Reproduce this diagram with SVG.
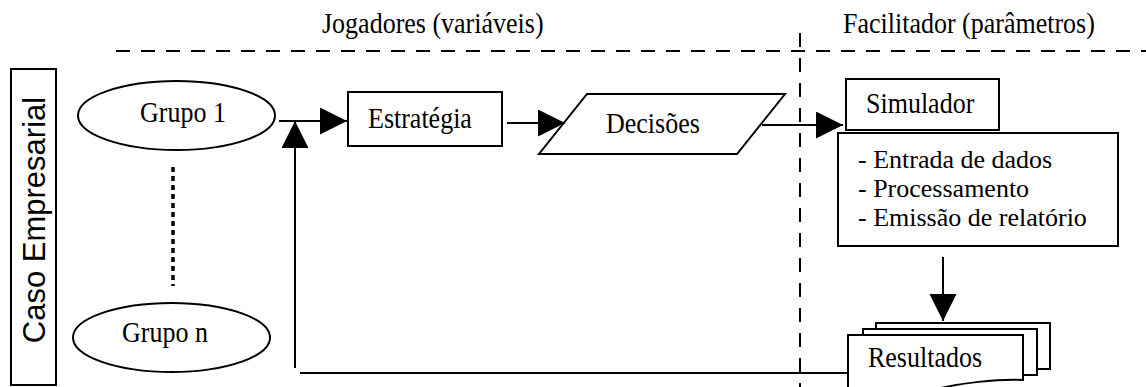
<svg xmlns="http://www.w3.org/2000/svg" width="1146" height="387" viewBox="0 0 1146 387">
<style>
.s{fill:#fff;stroke:#000;stroke-width:2}
.t{font-family:"Liberation Serif","Times New Roman",serif;font-size:26px;fill:#000}
.c{stroke:#000;stroke-width:2;fill:none}
.d{stroke:#000;stroke-width:2;fill:none;stroke-dasharray:14 11}
</style>
<defs>
<marker id="ah" markerUnits="userSpaceOnUse" markerWidth="28" markerHeight="28" refX="27" refY="13.5" orient="auto">
<path d="M0,0 L27,13.5 L0,27 z" fill="#000"/>
</marker>
</defs>
<g id="lanes">
<line class="d" x1="116" y1="51" x2="1146" y2="51"/>
<line class="d" x1="800" y1="33" x2="800" y2="387"/>
<text class="t" transform="translate(322,33) scale(1,1.12)">Jogadores (variáveis)</text>
<text class="t" transform="translate(843,33) scale(1,1.12)">Facilitador (parâmetros)</text>
</g>
<g id="caso">
<rect class="s" x="11" y="69" width="45" height="316"/>
<text transform="translate(45,220) rotate(-90)" text-anchor="middle" style="font-family:'Liberation Sans',Arial,sans-serif;font-size:31px">Caso Empresarial</text>
</g>
<g id="grupo1">
<ellipse class="s" cx="176.5" cy="115.5" rx="98.5" ry="34.5"/>
<text class="t" transform="translate(140,122) scale(1,1.12)">Grupo 1</text>
</g>
<g id="grupon">
<ellipse class="s" cx="171.5" cy="337.5" rx="98.5" ry="34.5"/>
<text class="t" transform="translate(122,342) scale(1,1.12)">Grupo n</text>
</g>
<g id="estrategia">
<rect class="s" x="348" y="92" width="154" height="54"/>
<text class="t" transform="translate(368,128) scale(1,1.12)">Estratégia</text>
</g>
<g id="decisoes">
<polygon class="s" points="587,94 785,94 737,154 539,154"/>
<text class="t" transform="translate(606,133) scale(1,1.12)">Decisões</text>
</g>
<g id="simulador">
<rect class="s" x="846" y="79" width="153" height="51"/>
<text class="t" transform="translate(866,113) scale(1,1.12)">Simulador</text>
</g>
<g id="processo">
<rect class="s" x="838" y="133" width="280" height="113"/>
<text class="t" x="858" y="168">- Entrada de dados</text>
<text class="t" x="858" y="197">- Processamento</text>
<text class="t" x="858" y="226">- Emissão de relatório</text>
</g>
<g id="resultados">
<rect class="s" x="876" y="323" width="174" height="46"/>
<rect class="s" x="863" y="329" width="174" height="46"/>
<path class="s" d="M848,392 L848,335 L1023,335 L1023,380 C1000,379 960,382 925,392"/>
<text class="t" transform="translate(868,367) scale(1,1.12)">Resultados</text>
</g>
<g id="connectors">
<line class="c" x1="279" y1="121" x2="347" y2="121" marker-end="url(#ah)"/>
<line class="c" x1="295" y1="368" x2="295" y2="121" marker-end="url(#ah)"/>
<line class="c" x1="507" y1="123" x2="565" y2="123" marker-end="url(#ah)"/>
<line class="c" x1="762" y1="125" x2="843" y2="125" marker-end="url(#ah)"/>
<line class="c" x1="943" y1="257" x2="943" y2="321" marker-end="url(#ah)"/>
<line class="c" x1="300" y1="373" x2="848" y2="373"/>
<line x1="173" y1="167" x2="173" y2="286" stroke="#000" stroke-width="3.5" stroke-dasharray="5 4"/>
</g>
</svg>
